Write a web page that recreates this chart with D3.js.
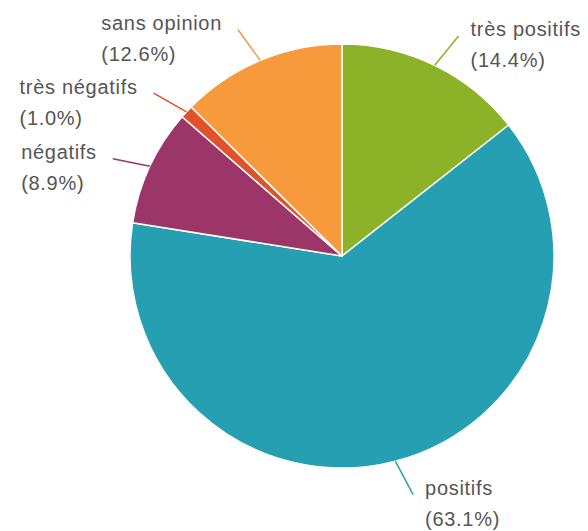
<!DOCTYPE html>
<html>
<head>
<meta charset="utf-8">
<script src="https://cdn.jsdelivr.net/npm/d3@7"></script>
<style>
  html, body { margin: 0; padding: 0; background: #fff; }
  svg { display: block; }
  text { font-family: 'Liberation Sans', Arial, sans-serif; }
</style>
</head>
<body>
<svg id="chart" width="588" height="531"></svg>
<script>
const categories = ["très positifs", "positifs", "négatifs", "très négatifs", "sans opinion"];
const values = [14.4, 63.1, 8.9, 1.0, 12.6];
const percentLabels = ["(14.4%)", "(63.1%)", "(8.9%)", "(1.0%)", "(12.6%)"];
const colors = ["#8cb327", "#269fb3", "#9c3669", "#e0532a", "#f79a3b"];

const width = 588, height = 531;
const cx = 342, cy = 256, radius = 212;
const lineOuter = radius + 37;
const fontSize = 20, lineGap = 31;

const svg = d3.select("#chart");
const g = svg.append("g").attr("transform", `translate(${cx},${cy})`);

const data = categories.map((c, i) => ({ name: c, value: values[i], pct: percentLabels[i], color: colors[i] }));

const pie = d3.pie().value(d => d.value).sort(null);
const arcs = pie(data);
const arc = d3.arc().innerRadius(0).outerRadius(radius);

g.selectAll("path.slice")
  .data(arcs)
  .join("path")
  .attr("class", "slice")
  .attr("d", arc)
  .attr("fill", d => d.data.color)
  .attr("stroke", "#fff")
  .attr("stroke-width", 1.5)
  .attr("stroke-linejoin", "round");

const pointAt = (a, r) => [Math.sin(a) * r, -Math.cos(a) * r];

arcs.forEach(d => {
  const mid = (d.startAngle + d.endAngle) / 2;
  const p0 = pointAt(mid, radius);
  const bend = 0.035 * Math.sign(Math.sin(mid)) * Math.sign(Math.cos(mid));
  const p1 = pointAt(mid + bend, lineOuter);
  g.append("line")
    .attr("x1", p0[0]).attr("y1", p0[1])
    .attr("x2", p1[0]).attr("y2", p1[1])
    .attr("stroke", d.data.color)
    .attr("stroke-width", 1.5);

  const rightSide = Math.sin(mid) >= 0;
  const t = g.append("text")
    .attr("font-size", fontSize)
    .attr("letter-spacing", 0.7)
    .attr("fill", "#555");
  const t1 = t.append("tspan").attr("x", 0).attr("y", 0).text(d.data.name);
  const t2 = t.append("tspan").attr("x", 0).attr("y", lineGap).text(d.data.pct);
  const w = Math.max(t1.node().getComputedTextLength(), t2.node().getComputedTextLength());
  const lx = rightSide ? p1[0] + 12 : p1[0] - 16 - w;
  const ly = p1[1] + 0.5;
  t.attr("transform", `translate(${lx},${ly})`);
});
</script>
</body>
</html>
